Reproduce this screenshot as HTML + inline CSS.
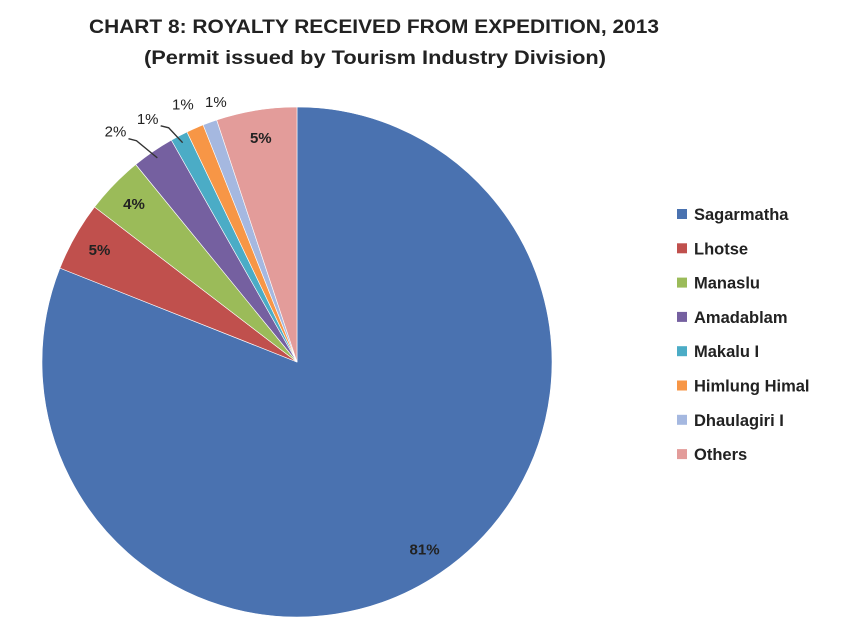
<!DOCTYPE html>
<html>
<head>
<meta charset="utf-8">
<style>
html,body{margin:0;padding:0;background:#fff;}
body{width:843px;height:631px;overflow:hidden;font-family:"Liberation Sans",sans-serif;}
svg text{font-family:"Liberation Sans",sans-serif;}
</style>
</head>
<body>
<svg id="chart" width="843" height="631" viewBox="0 0 843 631" xmlns="http://www.w3.org/2000/svg">
  <text x="374" y="33" text-anchor="middle" font-size="19" font-weight="bold" fill="#222" textLength="570" lengthAdjust="spacingAndGlyphs">CHART 8: ROYALTY RECEIVED FROM EXPEDITION, 2013</text>
  <text x="375" y="64" text-anchor="middle" font-size="19" font-weight="bold" fill="#222" textLength="462" lengthAdjust="spacingAndGlyphs">(Permit issued by Tourism Industry Division)</text>
  <g id="slices"></g>
  <g id="labels"></g>
  <g id="legend"></g>
</svg>
<script>
const categories = ["Sagarmatha","Lhotse","Manaslu","Amadablam","Makalu I","Himlung Himal","Dhaulagiri I","Others"];
const values = [81.0, 4.4, 3.7, 2.7, 1.1, 1.1, 0.9, 5.1];
const valueLabels = ["81%","5%","4%","2%","1%","1%","1%","5%"];
const colors = ["#4a72b0","#c0504d","#9bbb59","#7560a0","#4bacc6","#f79646","#a5b8e0","#e39c9a"];

const NS = "http://www.w3.org/2000/svg";
const cx = 297, cy = 362, r = 255;
const total = values.reduce((a,b)=>a+b,0);
function angleOf(v){ return v/total*2*Math.PI; }
function pt(a, rad){ return [cx + rad*Math.sin(a), cy - rad*Math.cos(a)]; }

const sg = document.getElementById('slices');
const lg = document.getElementById('labels');
let start = 0;
values.forEach((v,i)=>{
  const a = angleOf(v), end = start + a;
  const p0 = pt(start, r), p1 = pt(end, r);
  const large = a > Math.PI ? 1 : 0;
  const path = document.createElementNS(NS,'path');
  path.setAttribute('d', `M${cx},${cy} L${p0[0]},${p0[1]} A${r},${r} 0 ${large} 1 ${p1[0]},${p1[1]} Z`);
  path.setAttribute('fill', colors[i]);
  path.setAttribute('stroke', '#ffffff');
  path.setAttribute('stroke-width', '0.6');
  
  
  sg.appendChild(path);

  const mid = start + a/2;
  const t = document.createElementNS(NS,'text');
  t.setAttribute('font-size','15');
  t.setAttribute('fill','#222');
  t.setAttribute('text-anchor','middle');
  if (v >= 3) {
    const lp = pt(mid, r*0.89);
    t.setAttribute('x', lp[0]); t.setAttribute('y', lp[1]+5);
    t.setAttribute('font-weight','bold');
  } else {
    const lp = pt(mid, r*1.08);
    const e = pt(mid, r*0.97);
    let tx, ty;
    if (i === 3) { tx = lp[0]-26; ty = lp[1]+2; }
    else if (i === 4) { tx = lp[0]-22; ty = lp[1]+6; }
    else if (i === 5) { tx = lp[0]-4; ty = lp[1]; }
    else { tx = lp[0]+13; ty = lp[1]+4; }
    if (i === 3 || i === 4) {
      const line = document.createElementNS(NS,'polyline');
      const lx = tx+13;
      line.setAttribute('points', `${lx},${ty+2} ${lx+8},${ty+4} ${e[0]},${e[1]}`);
      line.setAttribute('fill','none');
      line.setAttribute('stroke','#333');
      line.setAttribute('stroke-width','1.4');
      
      
      lg.appendChild(line);
    }
    t.setAttribute('x', tx); t.setAttribute('y', ty);
  }
  t.textContent = valueLabels[i];
  
  
  lg.appendChild(t);
  start = end;
});

const leg = document.getElementById('legend');
categories.forEach((c,i)=>{
  const y = 214 + i*34.3;
  const g = document.createElementNS(NS,'g');
  
  
  const sq = document.createElementNS(NS,'rect');
  sq.setAttribute('x', 677); sq.setAttribute('y', y-5);
  sq.setAttribute('width', 10); sq.setAttribute('height', 10);
  sq.setAttribute('fill', colors[i]);
  
  
  const tx = document.createElementNS(NS,'text');
  tx.setAttribute('x', 694); tx.setAttribute('y', y+6);
  tx.setAttribute('font-size','16.5');
  tx.setAttribute('font-weight','bold');
  tx.setAttribute('fill','#222');
  
  
  tx.textContent = c;
  g.appendChild(sq); g.appendChild(tx);
  leg.appendChild(g);
});
</script>
</body>
</html>
